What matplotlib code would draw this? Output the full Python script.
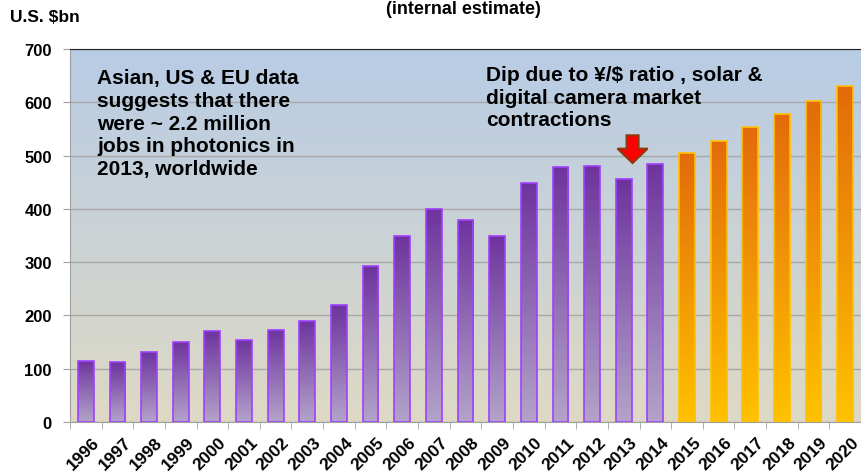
import matplotlib.pyplot as plt
import matplotlib.patches as mpatches
import matplotlib.transforms as mtransforms
import numpy as np

plt.rcParams['font.family'] = ['Liberation Sans', 'DejaVu Sans']
plt.rcParams['font.weight'] = 'bold'

years = [str(y) for y in range(1996, 2021)]
actual = [115, 112, 131, 151, 171, 154, 173, 190, 219, 292, 350, 400, 380,
          350, 449, 479, 481, 456, 485]
forecast = [505, 527, 553, 578, 603, 630]

fig = plt.figure(figsize=(8.61, 4.77), dpi=100)
ax = fig.add_axes([70 / 861, 1 - 423 / 477, 1 - 70 / 861, (423 - 50) / 477])

x = np.arange(len(years))

# background gradient: blue at top to beige at bottom
top_bg = np.array([0.72, 0.80, 0.90])
bot_bg = np.array([0.87, 0.85, 0.77])
t = np.linspace(0, 1, 256)[:, None]
bg = top_bg * (1 - t[:, :, None]) + bot_bg * t[:, :, None]
ax.imshow(bg, extent=[-0.5, len(years) - 0.5, 0, 700], aspect='auto',
          zorder=0, origin='upper')

ax.yaxis.grid(True, color='#a8a8a8', linewidth=1, zorder=1)
ax.set_axisbelow(True)


def grad_bars(xs, vals, c_top, c_bot, edge):
    bars = ax.bar(xs, vals, width=0.5, color='none', edgecolor=edge,
                  linewidth=1.2, zorder=3)
    c_top = np.array(c_top)
    c_bot = np.array(c_bot)
    g = c_top * (1 - t[:, :, None]) + c_bot * t[:, :, None]
    for b in bars:
        x0 = b.get_x()
        im = ax.imshow(g, extent=[x0, x0 + b.get_width(), 0, b.get_height()],
                       aspect='auto', zorder=2, origin='upper')
        im.set_clip_path(b)
    return bars


n_act = len(actual)
grad_bars(x[:n_act], actual, (0.43, 0.20, 0.62), (0.70, 0.64, 0.79), '#a040ff')
grad_bars(x[n_act:], forecast, (0.89, 0.42, 0.04), (1.0, 0.76, 0.0), '#ffc000')

ax.set_xlim(-0.5, len(years) - 0.5)
ax.set_ylim(0, 700)

ax.set_yticks(range(0, 701, 100))
ax.set_xticks(x)
ax.set_xticklabels(years, rotation=45, ha='right', rotation_mode='anchor',
                   fontsize=12.5, fontweight='bold')
for lbl in ax.get_yticklabels():
    lbl.set_fontsize(12)
    lbl.set_fontweight('bold')
ax.tick_params(axis='y', length=5, color='#a0a0a0', pad=8)
# ticks between categories
ax.set_xticks(np.arange(-0.5, len(years), 1), minor=True)
ax.tick_params(axis='x', which='major', length=0, pad=9)
ax.tick_params(axis='x', which='minor', length=5, color='#a0a0a0')
shift = mtransforms.ScaledTranslation(6 / 100, 0, fig.dpi_scale_trans)
for lbl in ax.get_xticklabels():
    lbl.set_transform(lbl.get_transform() + shift)

for s in ['left', 'bottom']:
    ax.spines[s].set_color('#a0a0a0')
ax.spines['top'].set_color('#202020')
ax.spines['right'].set_visible(False)

# dip arrow over 2013
i13 = years.index('2013')
arrow = mpatches.FancyArrow(i13 + 0.28, actual[i13] + 82, 0, -52, width=0.38,
                            head_width=0.95, head_length=27,
                            length_includes_head=True, fc='#ff0000',
                            ec='#8b3a10', lw=1.5, zorder=4)
ax.add_patch(arrow)

fig.text(10 / 861, 1 - 17 / 477, 'U.S. $bn', fontsize=12.5, fontweight='bold',
         va='center')
fig.text(463 / 861, 1 - 0.5 / 477, '(internal estimate)', fontsize=13,
         fontweight='bold', ha='center', va='top')
fig.text(97 / 861, 1 - 69 / 477,
         'Asian, US & EU data\nsuggests that there\nwere ~ 2.2 million\n'
         'jobs in photonics in\n2013, worldwide',
         fontsize=15, fontweight='bold', va='top', linespacing=1.25)
fig.text(486 / 861, 1 - 66 / 477,
         'Dip due to ¥/$ ratio , solar &\ndigital camera market\ncontractions',
         fontsize=15, fontweight='bold', va='top', linespacing=1.25)

fig.savefig('out.png', dpi=100)
